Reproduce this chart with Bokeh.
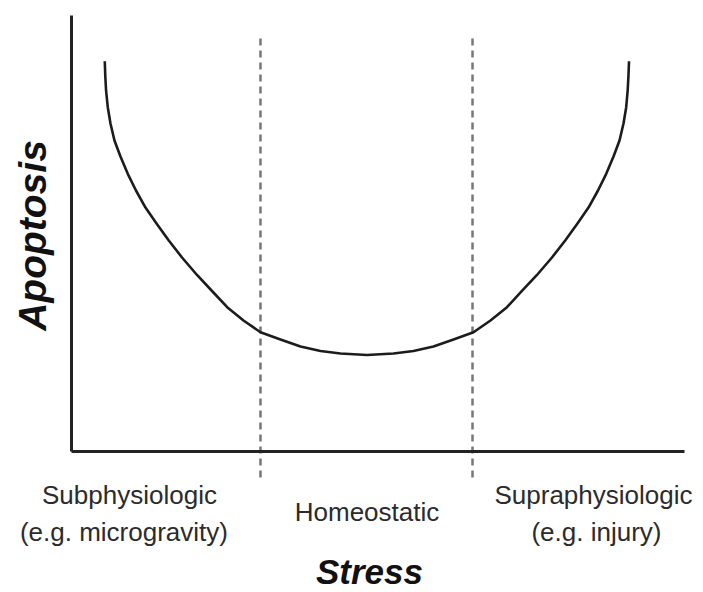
import math
from bokeh.plotting import figure
from bokeh.models import Range1d, Label, LinearAxis, FixedTicker
from bokeh.embed import file_html
from bokeh.resources import INLINE

# U-shaped relationship between stress and apoptosis (arbitrary units, 0-100)
stress = [5.43, 5.51, 5.64, 5.92, 6.36, 7.01, 7.99, 9.18, 10.52, 12.07, 13.87, 15.87,
          18.03, 20.55, 23.00, 25.40, 28.06, 30.83, 34.09, 37.36, 40.62, 43.88, 48.21,
          52.53, 55.79, 59.05, 62.32, 65.58, 68.35, 71.04, 73.41, 75.86, 78.38, 80.54,
          82.54, 84.34, 85.89, 87.23, 88.42, 89.40, 90.05, 90.49, 90.73, 90.86, 90.95]
apoptosis = [89.52, 86.24, 82.80, 78.97, 75.23, 71.33, 67.66, 63.69, 59.86, 55.96, 52.29, 48.39,
             44.50, 40.37, 36.70, 33.10, 30.05, 27.36, 25.69, 24.08, 23.05, 22.48, 22.13,
             22.48, 23.05, 24.08, 25.69, 27.36, 30.05, 33.10, 36.70, 40.37, 44.50, 48.39,
             52.29, 55.96, 59.86, 63.69, 67.66, 71.33, 75.23, 78.97, 82.80, 86.24, 89.52]

# region boundaries on the stress axis
dividers = [30.83, 65.42]
divider_top = 94.7
divider_bottom = -7.1

# region labels
region_line1 = ["Subphysiologic", "Homeostatic", "Supraphysiologic"]
region_line2 = ["(e.g. microgravity)", "", "(e.g. injury)"]
region_x1 = [9.46, 48.21, 85.15]
region_x2 = [8.56, 48.21, 85.64]

x_label = "Stress"
y_label = "Apoptosis"

FONT = "Liberation Sans"
TXT = "#2b2b2b"

p = figure(width=703, height=592, output_backend="svg", toolbar_location=None,
           x_range=Range1d(-11.58, 103.10), y_range=Range1d(-32.34, 103.44),
           x_axis_type=None, y_axis_type=None,
           min_border_left=0, min_border_right=0, min_border_top=0, min_border_bottom=0)
p.outline_line_color = None
p.background_fill_color = "white"
p.border_fill_color = "white"

# axes drawn at the data origin
axis_style = dict(bounds=(0, 100), ticker=FixedTicker(ticks=[]),
                  axis_line_width=3, axis_line_color="#222222",
                  major_tick_line_color=None, minor_tick_line_color=None,
                  major_label_text_font_size="0px")
p.add_layout(LinearAxis(fixed_location=0, **axis_style), "below")
p.add_layout(LinearAxis(fixed_location=0, **axis_style), "left")

# dashed region dividers
p.segment(x0=dividers, y0=[divider_top] * len(dividers), x1=dividers,
          y1=[divider_bottom] * len(dividers),
          line_color="#777777", line_width=2.5, line_dash="7 5")

# curve
p.line(stress, apoptosis, line_color="#1c1c1c", line_width=2.6, line_join="round")

# region labels
for t1, t2, x1, x2 in zip(region_line1, region_line2, region_x1, region_x2):
    y1 = -9.87 if t2 else -13.77
    p.add_layout(Label(x=x1, y=y1, text=t1, text_align="center",
                       text_baseline="alphabetic", text_font=FONT,
                       text_font_size="26px", text_color=TXT))
    if t2:
        p.add_layout(Label(x=x2, y=-18.35, text=t2, text_align="center",
                           text_baseline="alphabetic", text_font=FONT,
                           text_font_size="26px", text_color=TXT))

p.add_layout(Label(x=48.61, y=-27.53, text=x_label, text_align="center",
                   text_baseline="alphabetic", text_font=FONT,
                   text_font_style="bold italic", text_font_size="35px",
                   text_color="#111111"))
p.add_layout(Label(x=-6.36, y=49.54, text=y_label, angle=math.pi / 2,
                   text_align="center", text_baseline="middle", text_font=FONT,
                   text_font_style="bold italic", text_font_size="39px",
                   text_color="#111111"))

open("out.html", "w").write(file_html(p, INLINE))
